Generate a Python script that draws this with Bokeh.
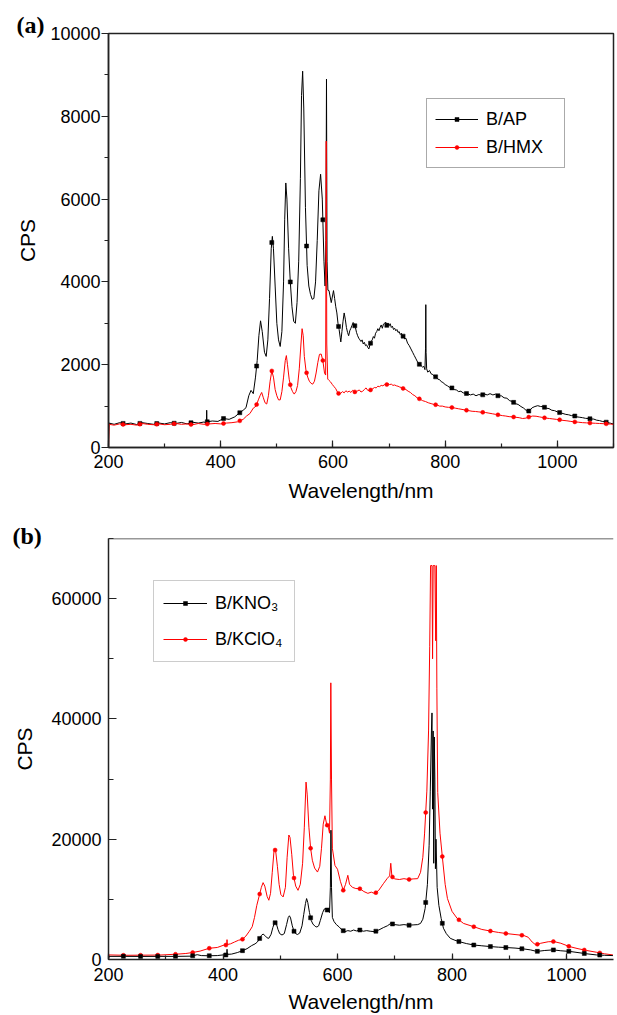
import numpy as np
from bokeh.plotting import figure
from bokeh.layouts import column
from bokeh.models import Range1d, SingleIntervalTicker, Legend, LegendItem, Span, Title
from bokeh.embed import file_html
from bokeh.resources import INLINE

# ---------------- panel (a) data ----------------
wl_ap = [200, 201, 210, 220, 230, 240, 250, 260, 270, 280, 290, 300, 310, 320, 330, 340, 350, 360, 370, 374.5,
         375, 375.5, 385, 395, 405, 415, 425, 432, 440, 445, 450, 454, 458, 462, 465, 468, 471, 474, 478, 481,
         484, 487, 490, 492, 494, 497, 500, 503, 506, 509, 512, 514, 516, 518, 521, 524, 527, 530, 533, 536,
         539, 542, 544, 546, 548, 551, 554, 557, 560, 563, 566, 569, 572, 575, 578, 581, 584, 586, 587.5, 588.5,
         589.5, 591, 593, 597, 601, 603, 605, 607, 609, 611, 613, 614, 616, 618, 620, 622, 624, 626, 628, 630,
         632, 634, 636, 638, 640, 642, 644, 646, 648, 650, 652, 654, 656, 658, 660, 662, 664, 666, 668, 670,
         672, 674, 676, 678, 680, 682, 684, 686, 688, 690, 692, 694, 696, 698, 700, 702, 704, 706, 708, 710,
         712, 714, 716, 718, 720, 722, 724, 726, 728, 730, 733, 736, 739, 742, 745, 748, 751, 754, 757, 760,
         762, 764, 765, 765.5, 766, 767, 769, 772, 775, 778, 781, 784, 787, 790, 793, 796, 800, 804, 808, 812,
         816, 820, 824, 828, 832, 836, 840, 845, 850, 855, 860, 865, 870, 875, 880, 885, 890, 895, 900, 905,
         910, 915, 920, 925, 930, 935, 940, 944, 947, 951, 955, 960, 965, 970, 975, 980, 985, 990, 995, 1000,
         1005, 1010, 1015, 1020, 1025, 1030, 1035, 1040, 1045, 1050, 1055, 1060, 1065, 1070, 1075, 1080, 1085, 1090, 1095, 1100]
cps_ap = [0, 590, 560, 600, 570, 590, 555, 600, 580, 560, 590, 570, 600, 580, 605, 570, 610, 590, 615, 600,
          900, 620, 640, 630, 700, 680, 740, 820, 900, 960, 1250, 1380, 1300, 1700, 2100, 2700, 3060, 2800, 2300, 2200,
          2600, 3600, 4800, 5100, 4800, 3900, 3000, 2600, 2440, 2800, 4000, 5500, 6390, 6000, 4800, 4000, 3400, 3050, 3000, 3500,
          4500, 6500, 8500, 9090, 8200, 5800, 4400, 3900, 3700, 3580, 3600, 4000, 5000, 6200, 6600, 6000, 4500, 3900, 5000, 8900,
          4500, 3800, 3790, 3500, 3790, 3600, 3400, 3250, 3000, 2850, 2650, 2550, 2800, 3050, 3250, 3100, 2900, 2780, 2700, 2820,
          2880, 2950, 3020, 2980, 2900, 2780, 2700, 2640, 2600, 2560, 2600, 2500, 2540, 2460, 2480, 2420, 2380, 2480, 2560, 2600,
          2680, 2640, 2760, 2800, 2870, 2820, 2900, 2960, 2880, 2980, 3000, 3030, 2950, 3000, 2940, 2990, 2900, 2930, 2850, 2880,
          2820, 2850, 2780, 2800, 2730, 2760, 2680, 2700, 2620, 2640, 2520, 2460, 2380, 2300, 2220, 2140, 2060, 2010, 1980, 1940,
          1960, 1880, 2400, 3450, 2300, 1900, 1820, 1860, 1780, 1760, 1720, 1700, 1650, 1640, 1590, 1570, 1520, 1490, 1450, 1440,
          1400, 1390, 1350, 1360, 1320, 1310, 1300, 1270, 1290, 1250, 1280, 1260, 1290, 1270, 1300, 1270, 1290, 1240, 1250, 1200,
          1190, 1130, 1110, 1060, 1040, 990, 950, 900, 860, 900, 960, 990, 1010, 990, 985, 950, 940, 900, 890, 860,
          840, 820, 800, 790, 770, 766, 740, 730, 720, 705, 700, 690, 686, 660, 650, 630, 620, 600, 585, 565]

wl_hmx = [200, 201, 210, 220, 230, 240, 250, 260, 270, 280, 290, 300, 310, 320, 330, 340, 350, 360, 370, 380,
          390, 400, 410, 420, 430, 440, 446, 452, 458, 463, 467, 470, 473, 476, 479, 482, 485, 488, 491, 494,
          497, 500, 503, 506, 509, 512, 515, 517, 519, 522, 525, 528, 531, 534, 537, 540, 543, 545, 547, 549,
          552, 555, 558, 561, 564, 567, 570, 573, 576, 579, 582, 585, 587, 588, 589, 590.7, 593, 596, 599, 602,
          605, 608, 611, 614, 617, 620, 623, 626, 629, 632, 635, 638, 641, 644, 647, 650, 653, 656, 659, 662,
          665, 668, 671, 674, 677, 680, 683, 686, 689, 692, 695, 698, 701, 704, 707, 710, 713, 716, 719, 722,
          726, 730, 734, 738, 742, 746, 750, 755, 760, 765, 770, 775, 780, 785, 790, 795, 800, 806, 812, 818,
          824, 830, 836, 842, 848, 854, 860, 866, 872, 878, 884, 890, 896, 902, 908, 914, 920, 926, 932, 938,
          944, 950, 956, 962, 968, 974, 980, 986, 992, 998, 1004, 1010, 1017, 1024, 1030, 1038, 1045, 1052, 1060, 1068,
          1075, 1082, 1090, 1095, 1100]
cps_hmx = [0, 560, 540, 570, 550, 560, 540, 580, 560, 550, 570, 550, 560, 580, 560, 570, 550, 580, 560, 570,
           580, 570, 590, 600, 620, 680, 760, 820, 950, 1000, 1150, 1250, 1330, 1200, 1080, 1050, 1250, 1600, 1850, 1700,
           1400, 1250, 1150, 1150, 1350, 1700, 2100, 2220, 2000, 1650, 1450, 1350, 1290, 1350, 1500, 1900, 2500, 2870, 2700, 2200,
           1855, 1700, 1600, 1550, 1530, 1600, 1800, 2050, 2250, 2258, 2100, 1800, 1750, 7400, 2500, 1654, 1620, 1580, 1520, 1470,
           1420, 1340, 1290, 1310, 1350, 1320, 1370, 1340, 1360, 1330, 1380, 1350, 1330, 1370, 1390, 1340, 1360, 1400, 1440, 1380,
           1370, 1400, 1420, 1450, 1440, 1480, 1470, 1500, 1490, 1520, 1510, 1540, 1520, 1530, 1500, 1510, 1490, 1480, 1460, 1450,
           1420, 1400, 1360, 1330, 1280, 1250, 1200, 1170, 1130, 1110, 1080, 1060, 1040, 1030, 1000, 1000, 980, 970, 967, 950,
           935, 920, 905, 890, 875, 870, 860, 850, 845, 830, 815, 800, 785, 770, 760, 745, 740, 730, 720, 700,
           710, 740, 760, 755, 740, 725, 710, 700, 690, 680, 670, 655, 645, 630, 620, 610, 600, 595, 590, 585,
           580, 575, 570, 565, 560]

# ---------------- panel (b) data ----------------
wl_kno3 = [200, 201, 230, 260, 290, 320, 345, 355, 362, 375, 390, 400, 406.5, 407, 407.5, 415, 425, 433, 442, 450,
           456, 460, 464, 467, 470, 473, 477, 480, 484, 487, 490, 493, 496, 499, 503, 507, 511, 514, 516, 518,
           521, 524, 527, 530, 534, 538, 541, 544, 546, 548, 551, 554, 557, 561, 564, 567, 570, 574, 577, 580,
           583, 586, 587.5, 588.5, 589.5, 591, 594, 598, 603, 608, 613, 618, 623, 628, 633, 639, 645, 651, 657, 665,
           672, 680, 687, 693, 700, 708, 716, 724, 732, 740, 745, 749, 753, 757, 760, 762, 764, 765, 766, 767,
           768, 769, 770, 771, 772, 774, 777, 781, 785, 790, 797, 805, 812, 825, 838, 852, 867, 881, 896, 910,
           925, 937, 948, 962, 977, 990, 1006, 1020, 1035, 1052, 1066, 1081]
cps_kno3 = [0, 520, 520, 510, 520, 520, 560, 800, 650, 620, 650, 760, 760, 1700, 850, 900, 1150, 1430, 1800, 2310,
            2600, 2900, 3500, 4000, 4230, 4000, 3600, 3520, 4200, 5300, 6160, 6000, 5000, 4300, 4070, 4300, 5800, 7000, 7270, 6900,
            5600, 4700, 4300, 4150, 4400, 5600, 7500, 9300, 10130, 9500, 7800, 6500, 5900, 5500, 5400, 5600, 6500, 7800, 8400, 8480,
            8100, 7800, 12000, 21500, 12000, 7000, 6300, 5800, 5400, 4900, 4630, 4800, 4700, 4900, 4750, 4900, 4700, 4800, 4700, 4630,
            4900, 5300, 5600, 6000, 5800, 5700, 5800, 5700, 5750, 5800, 6000, 6700, 8480, 12500, 19000, 28000, 38000, 41000, 25000, 38000,
            16000, 37000, 30000, 15090, 20000, 12000, 9000, 6830, 5200, 4300, 3520, 3200, 2980, 2650, 2410, 2280, 2150, 2050, 1980, 1900,
            1760, 1600, 1340, 1500, 1600, 1450, 1340, 1150, 950, 760, 700, 650]

wl_kclo4 = [200, 201, 230, 260, 290, 318, 335, 347, 360, 376, 390, 402, 406.5, 407, 407.5, 413, 420, 427, 434, 440,
            446, 451, 455, 459, 463, 467, 470, 473, 477, 480, 483, 486, 489, 490, 492, 495, 498, 501, 505, 509,
            512, 515, 517, 520, 523, 527, 531, 535, 539, 542, 545, 547, 550, 553, 556, 560, 565, 569, 572, 575,
            578, 581, 584, 586, 587.5, 588.3, 589.5, 591, 595.5, 600, 605, 610, 614, 618, 621, 626, 632, 639, 646, 653,
            659, 665, 672, 680, 687, 691, 693, 695, 700, 708, 716, 724, 732, 740, 745, 749, 752, 756, 759, 761,
            762.5, 765, 766, 767, 770, 771.5, 772.5, 773.5, 775, 779, 783, 788, 792, 800, 809, 820, 838, 852, 867, 881,
            896, 910, 925, 933, 940, 946, 955, 968, 978, 990, 1005, 1020, 1035, 1052, 1066, 1081]
cps_kclo4 = [0, 760, 700, 720, 740, 880, 1000, 1160, 1400, 1870, 2000, 2410, 2400, 3300, 2500, 2600, 2900, 3200, 3360, 3900,
             4700, 5450, 7000, 9000, 10500, 12000, 12780, 12200, 10500, 9850, 11000, 14500, 18000, 18400, 18000, 15500, 12500, 10800, 10400, 12000,
             17000, 20700, 20300, 17500, 14000, 12200, 11500, 12500, 16000, 22000, 29500, 27500, 22000, 18500, 16500, 15200, 14540, 15500, 18500, 22500,
             23900, 22500, 22000, 21000, 30000, 46000, 30000, 18500, 15640, 15000, 13000, 11500, 12500, 14000, 12500, 12000, 11800, 11780, 11300, 11000,
             11200, 10960, 11500, 12600, 13500, 13900, 16000, 13800, 13400, 13300, 13440, 13300, 13400, 13440, 14500, 17000, 20880, 28000, 38000, 52000,
             65500, 65500, 50000, 65500, 65500, 53000, 65500, 45000, 27770, 21000, 17120, 12500, 10130, 8000, 6830, 6000, 5450, 5000, 4730, 4500,
             4300, 4150, 4000, 3700, 2900, 2450, 2700, 2950, 2980, 2700, 2150, 1800, 1500, 1210, 950, 760]

# wavelengths at which the original software drew its symbols
marker_wl = [226, 256, 286, 317, 347, 376, 405, 434, 464, 491, 524, 553, 582, 610, 639, 667, 696, 725, 754,
             783, 812, 838, 867, 894, 922, 949, 977, 1004, 1031, 1058, 1087]

x_ticks_step = 200
FONT = "Liberation Sans"


def base_fig(width, height, xr, yr, borders):
    l, r, t, b = borders
    p = figure(width=width, height=height, output_backend="svg", toolbar_location=None,
               x_range=Range1d(*xr), y_range=Range1d(*yr),
               min_border_left=l, min_border_right=r, min_border_top=t, min_border_bottom=b)
    p.xgrid.visible = False
    p.ygrid.visible = False
    p.background_fill_color = "white"
    p.border_fill_color = "white"
    for ax in (p.xaxis[0], p.yaxis[0]):
        ax.axis_line_color = "#222222"
        ax.axis_line_width = 1.5
        ax.major_tick_line_color = "#222222"
        ax.minor_tick_line_color = "#222222"
        ax.major_tick_line_width = 1.2
        ax.minor_tick_line_width = 1.2
        ax.major_label_text_font = FONT
        ax.major_label_text_font_size = "18px"
        ax.major_label_text_color = "black"
        ax.axis_label_text_font = FONT
        ax.axis_label_text_font_size = "21px"
        ax.axis_label_text_font_style = "normal"
        ax.axis_label_text_color = "black"
    return p


def panel_title(text, offset, standoff):
    return Title(text=text, align="left", offset=offset, standoff=standoff,
                 text_font="Liberation Serif", text_font_style="bold", text_font_size="24px",
                 text_color="black")


def add_markers(p, wl, cps, color, marker):
    mx = [w for w in marker_wl if w <= wl[-1]]
    my = np.interp(mx, wl, cps)
    return p.scatter(mx, my, marker=marker, size=4, color=color, line_color=color, line_width=0.5)


def make_legend(items, loc, pad, spacing, gw, row_h, border):
    return Legend(items=items, location=loc, margin=0, padding=pad, spacing=spacing,
                  glyph_width=gw, glyph_height=10, label_height=row_h, label_standoff=8, label_width=70,
                  label_text_font=FONT, label_text_font_size="18px", label_text_color="black",
                  border_line_color=border, border_line_width=1,
                  background_fill_color="white", background_fill_alpha=1)


# ---------------- figure (a) ----------------
fa = base_fig(617, 505, (200, 1100), (0, 10000), (104, 4, 33, 58))
fa.title = panel_title("(a)", -92, -9)
fa.outline_line_color = "#222222"
fa.outline_line_width = 1.5
fa.xaxis.ticker = SingleIntervalTicker(interval=x_ticks_step, num_minor_ticks=2)
fa.yaxis.ticker = SingleIntervalTicker(interval=2000, num_minor_ticks=2)
fa.xaxis.major_tick_in = 7
fa.xaxis.major_tick_out = 0
fa.xaxis.minor_tick_in = 4
fa.xaxis.minor_tick_out = 0
fa.yaxis.major_tick_in = 0
fa.yaxis.major_tick_out = 7
fa.yaxis.minor_tick_in = 0
fa.yaxis.minor_tick_out = 4
fa.xaxis.major_label_standoff = 7
fa.yaxis.major_label_standoff = 1
fa.xaxis.axis_label = "Wavelength/nm"
fa.yaxis.axis_label = "CPS"
fa.xaxis.axis_label_standoff = 8
fa.yaxis.axis_label_standoff = 8

la1 = fa.line(wl_ap, cps_ap, color="black", line_width=1)
ma1 = add_markers(fa, wl_ap, cps_ap, "black", "square")
la2 = fa.line(wl_hmx, cps_hmx, color="#ff0000", line_width=1)
ma2 = add_markers(fa, wl_hmx, cps_hmx, "#ff0000", "circle")

fa.add_layout(make_legend([LegendItem(label="B/AP", renderers=[la1, ma1]),
                           LegendItem(label="B/HMX", renderers=[la2, ma2])],
                          (318, 279), 8, 4, 43, 24, "#555555"))

# ---------------- figure (b) ----------------
fb = base_fig(617, 510, (200, 1082), (0, 70000), (108, 0, 33, 54))
fb.title = panel_title("(b)", -96, -20)
fb.outline_line_color = None
fb.xaxis.ticker = SingleIntervalTicker(interval=x_ticks_step, num_minor_ticks=2)
fb.yaxis.ticker = SingleIntervalTicker(interval=20000, num_minor_ticks=2)
fb.xaxis.major_tick_in = 6
fb.xaxis.major_tick_out = 0
fb.xaxis.minor_tick_in = 4
fb.xaxis.minor_tick_out = 0
fb.yaxis.major_tick_in = 8
fb.yaxis.major_tick_out = 0
fb.yaxis.minor_tick_in = 5
fb.yaxis.minor_tick_out = 0
fb.xaxis.major_label_standoff = 8
fb.yaxis.major_label_standoff = 7
fb.xaxis.axis_label = "Wavelength/nm"
fb.yaxis.axis_label = "CPS"
fb.xaxis.axis_label_standoff = 6
fb.yaxis.axis_label_standoff = 12
fb.add_layout(Span(location=70000, dimension="width", line_color="#333333", line_width=1.5))

lb2 = fb.line(wl_kclo4, cps_kclo4, color="#ff0000", line_width=1)
mb2 = add_markers(fb, wl_kclo4, cps_kclo4, "#ff0000", "circle")
lb1 = fb.line(wl_kno3, cps_kno3, color="black", line_width=1)
mb1 = add_markers(fb, wl_kno3, cps_kno3, "black", "square")

fb.add_layout(make_legend([LegendItem(label="B/KNO\u2083", renderers=[lb1, mb1]),
                           LegendItem(label="B/KClO\u2084", renderers=[lb2, mb2])],
                          (45, 297), 9, 10, 44, 26, "#999999"))

layout = column(fa, fb, spacing=0)
open("out.html", "w").write(file_html(layout, INLINE))
